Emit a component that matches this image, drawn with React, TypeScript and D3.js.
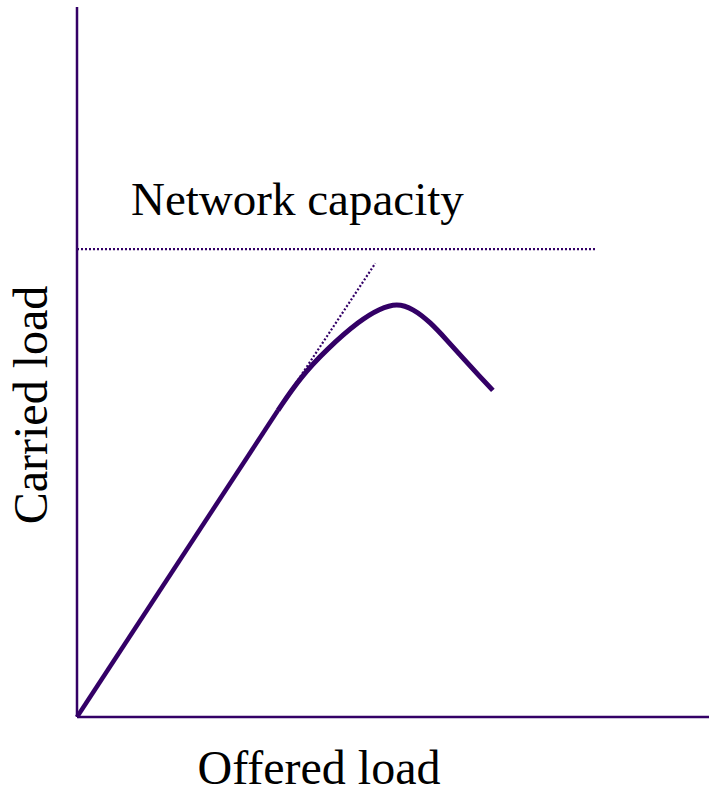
import React, { useEffect, useRef } from 'react';
import * as d3 from 'd3';

// offered load (x) vs carried load (y), 0..100 units
const linearX = [0, 31.8];
const linearY = [0, 43.2];

const curveX = [31.8, 35.3, 39.5, 44.8, 47.9, 50.6, 53.2, 55.9, 58.5, 61.1, 63.8, 65.8];
const curveY = [43.2, 47.8, 51.8, 55.9, 57.5, 58.3, 57.5, 55.6, 53.1, 50.5, 47.9, 46.0];

const tangentX = [31.8, 47.2];
const tangentY = [43.2, 63.9];

const capacityLevel = 65.9;
const capacityEnd = 82.1;

const labels = {
  capacity: 'Network capacity',
  x: 'Offered load',
  y: 'Carried load',
};

const App = () => {
  const ref = useRef<SVGSVGElement | null>(null);

  useEffect(() => {
    const svg = d3.select(ref.current);
    svg.selectAll('*').remove();

    const color = '#330066';
    const x = d3.scaleLinear().domain([0, 100]).range([77, 709]);
    const y = d3.scaleLinear().domain([0, 100]).range([717, 7]);

    const line = d3
      .line<[number, number]>()
      .x((d) => x(d[0]))
      .y((d) => y(d[1]));

    // axes
    svg.append('line')
      .attr('x1', x(0)).attr('x2', x(0))
      .attr('y1', y(0)).attr('y2', y(100))
      .attr('stroke', color).attr('stroke-width', 2.5);
    svg.append('line')
      .attr('x1', x(0)).attr('x2', x(100))
      .attr('y1', y(0)).attr('y2', y(0))
      .attr('stroke', color).attr('stroke-width', 2.5);

    // capacity line
    svg.append('line')
      .attr('x1', x(0)).attr('x2', x(capacityEnd))
      .attr('y1', y(capacityLevel)).attr('y2', y(capacityLevel))
      .attr('stroke', color).attr('stroke-width', 2.2)
      .attr('stroke-dasharray', '2,2');

    // tangent
    const tangent = tangentX.map((v, i) => [v, tangentY[i]] as [number, number]);
    svg.append('path')
      .attr('d', line(tangent))
      .attr('fill', 'none')
      .attr('stroke', color).attr('stroke-width', 2.2)
      .attr('stroke-dasharray', '2,2');

    // linear part
    const lin = linearX.map((v, i) => [v, linearY[i]] as [number, number]);
    svg.append('path')
      .attr('d', line(lin))
      .attr('fill', 'none')
      .attr('stroke', color).attr('stroke-width', 4.5);

    // congestion curve
    const curve = curveX.map((v, i) => [v, curveY[i]] as [number, number]);
    svg.append('path')
      .attr('d', line.curve(d3.curveBasis)(curve))
      .attr('fill', 'none')
      .attr('stroke', color).attr('stroke-width', 5);

    const font = '"Liberation Serif", "Times New Roman", serif';
    svg.append('text')
      .attr('x', 131).attr('y', 215)
      .attr('font-family', font).attr('font-size', 47)
      .attr('fill', '#000')
      .text(labels.capacity);

    svg.append('text')
      .attr('x', 319).attr('y', 784)
      .attr('text-anchor', 'middle')
      .attr('font-family', font).attr('font-size', 48)
      .attr('fill', '#000')
      .text(labels.x);

    svg.append('text')
      .attr('transform', 'translate(47,405) rotate(-90)')
      .attr('text-anchor', 'middle')
      .attr('font-family', font).attr('font-size', 48)
      .attr('fill', '#000')
      .text(labels.y);
  }, []);

  return (
    <svg
      ref={ref}
      width={709}
      height={789}
      style={{ position: 'absolute', left: 0, top: 0, background: '#fff' }}
    />
  );
};

export default App;
